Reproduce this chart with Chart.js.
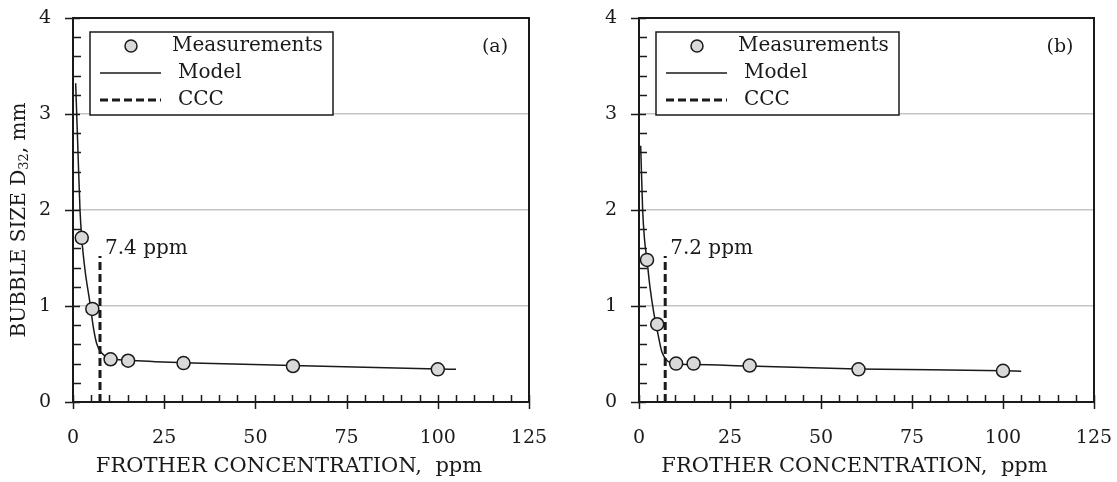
<!DOCTYPE html>
<html>
<head>
<meta charset="utf-8">
<script src="https://cdn.jsdelivr.net/npm/chart.js@4.4.0/dist/chart.umd.min.js"></script>
<style>
    html, body { margin: 0; padding: 0; background: #fff; }
    #wrap { position: relative; width: 1117px; height: 482px; }
    canvas { position: absolute; top: 0; }
</style>
</head>
<body>
<div id="wrap">
    <canvas id="chartA" width="558" height="482" style="left:0"></canvas>
    <canvas id="chartB" width="559" height="482" style="left:558px"></canvas>
</div>
<script>
// ticks
const xTicks = [0, 25, 50, 75, 100, 125];
const yTicks = [0, 1, 2, 3, 4];

// panel (a)
const measConcA = [2.4, 5.3, 10.3, 15.1, 30.3, 60.3, 100];
const measSizeA = [1.71, 0.97, 0.445, 0.43, 0.405, 0.375, 0.34];
const modelConcA = [0.73, 1.32, 1.92, 2.37, 3.29, 4.66, 5.57, 6.48, 7.85, 10.1, 15, 30, 60, 100, 105];
const modelSizeA = [3.32, 2.66, 2.0, 1.72, 1.375, 1.03, 0.78, 0.61, 0.51, 0.455, 0.435, 0.41, 0.38, 0.345, 0.34];
const cccA = 7.4;
const cccTopA = 1.52;

// panel (b)
const measConcB = [2.2, 5.0, 10.2, 15.0, 30.4, 60.3, 100];
const measSizeB = [1.48, 0.81, 0.40, 0.40, 0.38, 0.34, 0.325];
const modelConcB = [0.46, 1.0, 1.55, 2.19, 3.01, 4.02, 5.2, 6.3, 7.76, 10.2, 15, 30, 60, 100, 105];
const modelSizeB = [2.67, 2.0, 1.68, 1.48, 1.2, 0.94, 0.71, 0.52, 0.43, 0.395, 0.39, 0.375, 0.345, 0.325, 0.32];
const cccB = 7.2;
const cccTopB = 1.52;

const FONT = '"DejaVu Serif", "Liberation Serif", serif';
const INK = '#1a1a1a';

function toXY(xs, ys) {
    return xs.map((x, i) => ({ x: x, y: ys[i] }));
}

// frame, tick marks, legend box and labels
const decor = {
    id: 'decor',
    beforeDatasetsDraw(chart) {
        const ctx = chart.ctx;
        const a = chart.chartArea;
        const sx = chart.scales.x, sy = chart.scales.y;
        ctx.save();
        ctx.strokeStyle = INK;
        ctx.lineWidth = 2;
        ctx.strokeRect(a.left, a.top, a.right - a.left, a.bottom - a.top);

        ctx.lineWidth = 1.5;
        ctx.beginPath();
        for (let v = 0; v <= 125; v += 5) {
            const px = Math.round(sx.getPixelForValue(v)) + 0.5;
            if (v % 25 === 0) {
                ctx.moveTo(px, a.bottom - 7); ctx.lineTo(px, a.bottom + 7);
            } else {
                ctx.moveTo(px, a.bottom); ctx.lineTo(px, a.bottom - 7);
            }
        }
        for (let k = 0; k <= 20; k++) {
            const py = Math.round(sy.getPixelForValue(k * 0.2)) + 0.5;
            if (k % 5 === 0) {
                ctx.moveTo(a.left - 8, py); ctx.lineTo(a.left + 7, py);
            } else {
                ctx.moveTo(a.left, py); ctx.lineTo(a.left + 8, py);
            }
        }
        ctx.stroke();
        ctx.restore();
    },
    afterDatasetsDraw(chart, args, opts) {
        const ctx = chart.ctx;
        const a = chart.chartArea;
        const sx = chart.scales.x, sy = chart.scales.y;
        ctx.save();
        ctx.font = '20px ' + FONT;
        ctx.fillStyle = INK;
        ctx.textBaseline = 'middle';

        // legend
        const lx = a.left + 17, ly = a.top + 14;
        ctx.fillStyle = '#fff';
        ctx.fillRect(lx, ly, 243, 83);
        ctx.strokeStyle = INK;
        ctx.lineWidth = 1.5;
        ctx.strokeRect(lx, ly, 243, 83);
        ctx.fillStyle = INK;
        ctx.textAlign = 'left';
        ctx.fillText('Measurements', lx + 82, ly + 14);
        ctx.fillText('Model', lx + 88, ly + 41);
        ctx.fillText('CCC', lx + 88, ly + 68);
        ctx.beginPath();
        ctx.arc(lx + 41, ly + 14, 6, 0, Math.PI * 2);
        ctx.fillStyle = '#d9d9d9';
        ctx.fill();
        ctx.lineWidth = 1.5;
        ctx.stroke();
        ctx.beginPath();
        ctx.moveTo(lx + 10, ly + 41); ctx.lineTo(lx + 71, ly + 41);
        ctx.stroke();
        ctx.beginPath();
        ctx.lineWidth = 3;
        ctx.setLineDash([8, 4]);
        ctx.moveTo(lx + 10, ly + 68); ctx.lineTo(lx + 71, ly + 68);
        ctx.stroke();
        ctx.setLineDash([]);

        // panel tag
        ctx.fillStyle = INK;
        ctx.font = '19px ' + FONT;
        ctx.textAlign = 'center';
        ctx.fillText(opts.tag, a.right - 34, a.top + 29);

        // CCC value
        ctx.font = '20px ' + FONT;
        ctx.textAlign = 'left';
        ctx.fillText(opts.cccText, sx.getPixelForValue(opts.ccc) + 5, sy.getPixelForValue(1.6));

        // x title
        ctx.font = '21px ' + FONT;
        ctx.textAlign = 'center';
        ctx.fillText('FROTHER CONCENTRATION,  ppm', (a.left + a.right) / 2 - 12, 467);

        // y title with subscript
        if (opts.yTitle) {
            ctx.translate(20, 220);
            ctx.rotate(-Math.PI / 2);
            const p1 = 'BUBBLE SIZE D', p2 = '32', p3 = ', mm';
            ctx.font = '20px ' + FONT;
            const w1 = ctx.measureText(p1).width, w3 = ctx.measureText(p3).width;
            ctx.font = '13px ' + FONT;
            const w2 = ctx.measureText(p2).width;
            const x0 = -(w1 + w2 + w3) / 2;
            ctx.textAlign = 'left';
            ctx.font = '20px ' + FONT;
            ctx.fillText(p1, x0, 0);
            ctx.font = '13px ' + FONT;
            ctx.fillText(p2, x0 + w1, 5);
            ctx.font = '20px ' + FONT;
            ctx.fillText(p3, x0 + w1 + w2, 0);
        }
        ctx.restore();
    }
};

function buildChart(id, p) {
    return new Chart(document.getElementById(id), {
        type: 'scatter',
        data: {
            datasets: [
                {
                    label: 'Measurements',
                    data: toXY(p.measX, p.measY),
                    showLine: false,
                    pointRadius: 6.5,
                    pointBackgroundColor: '#d9d9d9',
                    pointBorderColor: INK,
                    pointBorderWidth: 1.5,
                    order: 0
                },
                {
                    label: 'Model',
                    data: toXY(p.modelX, p.modelY),
                    showLine: true,
                    pointRadius: 0,
                    borderColor: INK,
                    borderWidth: 1.5,
                    cubicInterpolationMode: 'monotone',
                    order: 1
                },
                {
                    label: 'CCC',
                    data: [{ x: p.ccc, y: 0 }, { x: p.ccc, y: p.cccTop }],
                    showLine: true,
                    pointRadius: 0,
                    borderColor: INK,
                    borderWidth: 3,
                    borderDash: [8, 4],
                    order: 2
                }
            ]
        },
        options: {
            responsive: false,
            animation: false,
            layout: { padding: { top: 18, right: p.padRight, left: 0, bottom: 0 } },
            plugins: {
                legend: { display: false },
                tooltip: { enabled: false },
                decor: { tag: p.tag, ccc: p.ccc, cccText: p.cccText, yTitle: p.yTitle }
            },
            scales: {
                x: {
                    type: 'linear', min: 0, max: 125,
                    afterBuildTicks: s => { s.ticks = xTicks.map(v => ({ value: v })); },
                    afterFit: s => { s.height = 80; s.paddingLeft = 0; s.paddingRight = 0; },
                    grid: { display: false, drawTicks: false },
                    border: { display: false },
                    ticks: { padding: 25, color: INK, font: { family: FONT, size: 19 } }
                },
                y: {
                    type: 'linear', min: 0, max: 4,
                    afterBuildTicks: s => { s.ticks = yTicks.map(v => ({ value: v })); },
                    afterFit: s => { s.width = p.axisLeft; s.paddingTop = 0; s.paddingBottom = 0; },
                    grid: {
                        drawTicks: false,
                        lineWidth: 1.5,
                        color: c => (c.tick && c.tick.value > 0 && c.tick.value < 4) ? '#c4c4c4' : 'rgba(0,0,0,0)'
                    },
                    border: { display: false },
                    ticks: { padding: 22, color: INK, font: { family: FONT, size: 19 } }
                }
            }
        },
        plugins: [decor]
    });
}

buildChart('chartA', {
    measX: measConcA, measY: measSizeA, modelX: modelConcA, modelY: modelSizeA,
    ccc: cccA, cccTop: cccTopA, cccText: '7.4 ppm', tag: '(a)', yTitle: true,
    axisLeft: 73, padRight: 29
});
buildChart('chartB', {
    measX: measConcB, measY: measSizeB, modelX: modelConcB, modelY: modelSizeB,
    ccc: cccB, cccTop: cccTopB, cccText: '7.2 ppm', tag: '(b)', yTitle: false,
    axisLeft: 81, padRight: 23
});
</script>
</body>
</html>
